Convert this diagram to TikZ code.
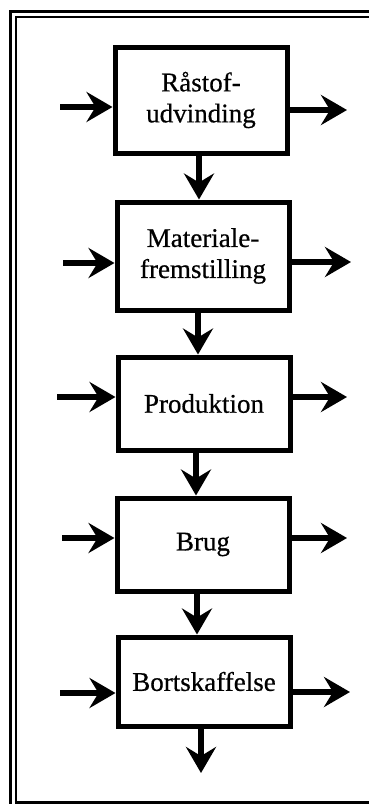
\documentclass[tikz,border=0pt]{standalone}
\usepackage{fontspec}
\setmainfont{Liberation Serif}
\newfontfamily\stagefont[BoldFont=Liberation Serif,BoldFeatures={FakeBold=0.6}]{Liberation Serif}
\usetikzlibrary{arrows.meta}
\begin{document}
\begin{tikzpicture}[x=1pt,y=-1pt,
  stagebox/.style={draw,line width=5pt,minimum width=172pt,align=center,
    font=\stagefont\bfseries\fontsize{27}{31}\selectfont,inner sep=0pt},
  flow/.style={line width=5.5pt,-{Stealth[length=26pt,width=30pt,inset=9pt]}},
  frame/.style={line width=2.6pt}]
\useasboundingbox (0,0) rectangle (369,804);
\begin{scope}
\clip (0,0) rectangle (369,804);
% double frame around the diagram
\draw[frame] (10.5,820) -- (10.5,11.5) -- (400,11.5);
\draw[frame] (16,820) -- (16,17) -- (400,17);
\draw[frame] (16,802.5) -- (400,802.5);
\end{scope}

% life-cycle stages
\node[stagebox,minimum height=106pt] (b1) at (201,100) {Råstof-\\udvinding};
\node[stagebox,minimum height=108pt] (b2) at (203,256) {Materiale-\\fremstilling};
\node[stagebox,minimum height=93pt] (b3) at (204,403.5) {Produktion};
\node[stagebox,minimum height=93pt] (b4) at (203,544.5) {Brug};
\node[stagebox,minimum height=89pt] (b5) at (204,681.5) {Bortskaffelse};

% inputs and outputs of each stage
\coordinate (i1) at (60,107);  \coordinate (o1) at (347,110);
\coordinate (i2) at (63,263);  \coordinate (o2) at (351,262);
\coordinate (i3) at (57,397);  \coordinate (o3) at (347,397);
\coordinate (i4) at (62,538);  \coordinate (o4) at (347,538);
\coordinate (i5) at (60,693);  \coordinate (o5) at (350,692);
\foreach \k in {1,...,5}{
  \draw[flow] (i\k) -- (i\k -| b\k.west);
  \draw[flow] (o\k -| b\k.east) -- (o\k);
}

% flow between stages
\coordinate (end) at (201,773);
\draw[flow] (b1.south -| 199,0) -- (b2.north -| 199,0);
\draw[flow] (b2.south -| 198,0) -- (b3.north -| 198,0);
\draw[flow] (b3.south -| 196,0) -- (b4.north -| 196,0);
\draw[flow] (b4.south -| 197,0) -- (b5.north -| 197,0);
\draw[flow] (b5.south -| 201,0) -- (end);
\end{tikzpicture}
\end{document}
